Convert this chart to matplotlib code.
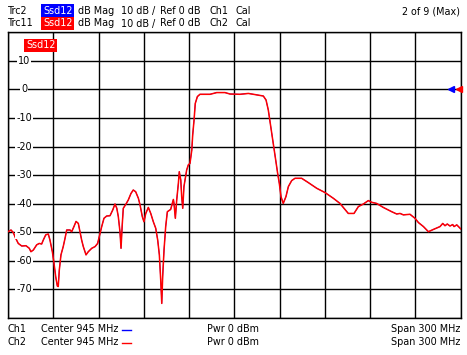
import matplotlib
matplotlib.use("Agg")
import matplotlib.pyplot as plt
import matplotlib.transforms as mtransforms

# Frequency (MHz) and magnitude (dB) of the Ssd12 trace
freq_mhz = [795.0, 797.0, 798.5, 800.1, 801.8, 804.1, 806.9, 809.1, 810.2, 811.8,
            814.0, 815.7, 817.3, 818.4, 820.0, 821.7, 822.8, 824.4, 825.5, 826.6,
            827.7, 828.3, 829.0, 830.1, 831.6, 832.8, 833.9, 836.1, 837.2, 838.7,
            840.1, 841.6, 842.7, 843.8, 844.9, 846.7, 848.2, 850.5, 852.7, 854.4,
            855.5, 857.1, 858.6, 860.4, 862.6, 864.4, 865.9, 867.1, 868.1, 869.2,
            869.9, 870.7, 871.4, 873.2, 874.7, 876.5, 878.0, 879.6, 881.4, 882.5,
            884.0, 885.1, 886.3, 888.0, 889.6, 891.3, 892.9, 894.2, 895.3, 896.2,
            896.9, 897.5, 898.4, 899.5, 900.6, 902.8, 903.9, 904.6, 905.0, 905.9,
            906.8, 907.9, 908.5, 909.5, 910.1, 910.8, 911.6, 912.5, 913.4, 914.5,
            915.6, 916.8, 917.4, 918.3, 919.1, 920.5, 922.2, 928.9, 933.3, 938.8,
            942.1, 948.7, 954.3, 957.6, 964.2, 966.0, 967.5, 969.1, 970.8, 972.4,
            973.7, 974.8, 975.9, 977.4, 979.2, 980.8, 983.0, 985.2, 989.6, 994.0,
            999.6, 1005.1, 1010.6, 1015.0, 1018.3, 1020.5, 1024.3, 1027.2, 1030.5, 1033.8,
            1036.0, 1039.3, 1043.7, 1049.3, 1052.6, 1054.8, 1057.0, 1061.4, 1064.7, 1067.0,
            1070.3, 1073.6, 1076.9, 1081.3, 1083.1, 1084.6, 1086.1, 1087.9, 1089.7, 1090.6,
            1092.4, 1095.0]
ssd12_db = [-49.8, -49.2, -50.1, -52.1, -53.9, -54.8, -54.7, -55.6, -56.8, -56.2,
            -54.4, -53.9, -54.1, -52.7, -50.9, -50.6, -52.7, -56.8, -60.9, -65.5,
            -68.8, -69.0, -63.2, -57.9, -55.0, -52.1, -49.2, -49.2, -49.8, -48.0,
            -46.2, -46.9, -49.8, -52.7, -55.0, -57.9, -56.8, -55.6, -55.0, -53.9,
            -51.5, -48.0, -45.1, -44.3, -44.2, -42.2, -40.1, -41.6, -44.5, -49.8,
            -55.6, -47.4, -41.6, -40.1, -38.7, -36.4, -35.2, -35.8, -38.1, -40.4,
            -44.5, -46.3, -43.4, -41.3, -43.4, -46.3, -48.6, -52.7, -57.9, -66.7,
            -74.9, -65.5, -56.2, -48.0, -42.8, -42.0, -39.9, -38.5, -39.9, -45.1,
            -38.7, -32.9, -28.8, -31.7, -37.5, -41.6, -34.0, -31.1, -28.2, -26.4,
            -25.9, -21.2, -15.9, -10.7, -4.9, -2.5, -1.7, -1.7, -1.1, -1.1,
            -1.6, -1.7, -1.4, -1.7, -2.3, -3.7, -7.2, -13.0, -18.9, -24.7,
            -29.4, -32.9, -37.5, -39.9, -37.5, -34.0, -31.9, -31.1, -31.1, -32.6,
            -34.6, -36.1, -38.1, -39.9, -42.0, -43.4, -43.4, -41.0, -40.1, -38.9,
            -39.5, -39.9, -41.3, -42.8, -43.6, -43.4, -43.9, -43.7, -45.1, -46.6,
            -48.0, -49.8, -49.0, -48.0, -46.9, -47.7, -47.1, -47.8, -47.3, -48.0,
            -47.4, -48.8]

x_min, x_max = 795, 1095
y_min, y_max = -80, 20
y_labels = [10, 0, -10, -20, -30, -40, -50, -60, -70]

W, H = 467, 355
fig = plt.figure(figsize=(W / 100, H / 100), dpi=100)
fig.patch.set_facecolor("white")
ax = fig.add_axes([8 / W, (H - 318) / H, 452.7 / W, 285.7 / H])
ax.set_facecolor("white")
ax.set_xlim(x_min, x_max)
ax.set_ylim(y_min, y_max)
ax.set_xticks(range(x_min, x_max + 1, 30))
ax.set_yticks(range(y_min, y_max + 1, 10))
ax.grid(True, color="black", linewidth=1.0)
ax.tick_params(length=0, labelbottom=False, labelleft=False)
for s in ax.spines.values():
    s.set_color("black")
    s.set_linewidth(1.0)

ax.plot(freq_mhz, ssd12_db, color="#0000ff", linewidth=0.6, zorder=3)
ax.plot(freq_mhz, ssd12_db, color="#ff0000", linewidth=1.1, zorder=4)

fs = 6.9
trans = mtransforms.blended_transform_factory(ax.transAxes, ax.transData)
for v in y_labels:
    ax.text(16 / 452.7, v, str(v), transform=trans, ha="center", va="center",
            fontsize=fs, color="black", zorder=5,
            bbox=dict(facecolor="white", edgecolor="none", pad=1.0))

# reference-level markers
ax.plot([1088.5], [0], marker="<", color="#0000ff", markersize=5, clip_on=False, zorder=6)
ax.plot([1093.8], [0], marker="<", color="#ff0000", markersize=5, clip_on=False, zorder=6)

# trace label inside plot
ax.text(18 / 452.7, 1 - 13 / 285.7, "Ssd12", transform=ax.transAxes, ha="left", va="center",
        fontsize=fs, color="white", zorder=6,
        bbox=dict(facecolor="#ff0000", edgecolor="none", pad=1.2))

def ftext(x, y, s, **kw):
    fig.text(x / W, 1 - y / H, s, fontsize=fs, va="center", **kw)

# header
ftext(8, 11, "Trc2")
ftext(43, 11, "Ssd12", color="white", bbox=dict(facecolor="#0000ff", edgecolor="none", pad=1.2))
ftext(77.7, 11, "dB Mag")
ftext(121, 11, "10 dB /")
ftext(160.3, 11, "Ref 0 dB")
ftext(209.7, 11, "Ch1")
ftext(235.3, 11, "Cal")
ftext(460, 11, "2 of 9 (Max)", ha="right")

ftext(8, 23.5, "Trc11")
ftext(43, 23.5, "Ssd12", color="white", bbox=dict(facecolor="#ff0000", edgecolor="none", pad=1.2))
ftext(77.7, 23.5, "dB Mag")
ftext(121, 23.5, "10 dB /")
ftext(160.3, 23.5, "Ref 0 dB")
ftext(209.7, 23.5, "Ch2")
ftext(235.3, 23.5, "Cal")

# footer
for y, ch, col in [(329, "Ch1", "#0000ff"), (342, "Ch2", "#ff0000")]:
    ftext(8, y, ch)
    ftext(40.7, y, "Center 945 MHz")
    fig.add_artist(plt.Line2D([122 / W, 131 / W], [1 - (y + 0.5) / H] * 2,
                              color=col, linewidth=1.0, transform=fig.transFigure))
    ftext(206.7, y, "Pwr 0 dBm")
    ftext(460, y, "Span 300 MHz", ha="right")

fig.savefig("out.png", dpi=100, facecolor="white")
